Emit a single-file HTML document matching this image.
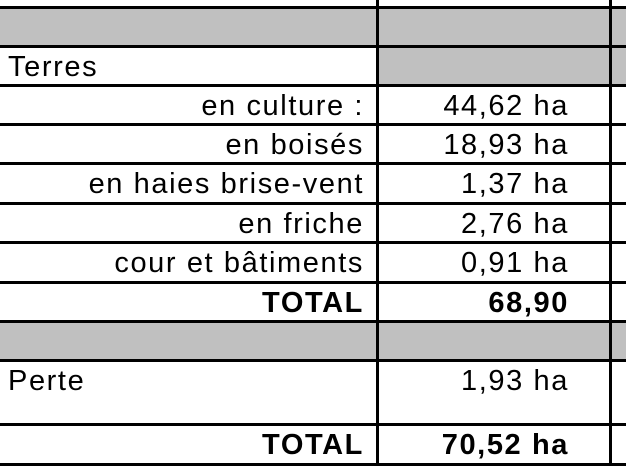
<!DOCTYPE html>
<html><head><meta charset="utf-8"><style>
body{margin:0;width:626px;height:473px;background:#fff;position:relative;overflow:hidden;font-family:"Liberation Sans",Arial,sans-serif;font-stretch:normal;color:#000}
.g{position:absolute;background:#c0c0c0}
.h{position:absolute;left:0;width:626px;height:3px;background:#000}
.v{position:absolute;width:3px;background:#000}
.t{position:absolute;font-size:29px;line-height:32px;letter-spacing:1.6px;white-space:nowrap;font-stretch:normal;font-family:"Liberation Sans",Arial,sans-serif}
.l{text-align:right;right:262px}
.r{text-align:right;right:57px}
.b{font-weight:bold}
</style></head><body>
<div class="g" style="left:0;top:8px;width:377px;height:38px"></div>
<div class="g" style="left:379px;top:8px;width:231px;height:77px"></div>
<div class="g" style="left:612px;top:8px;width:14px;height:77px"></div>
<div class="g" style="left:0;top:322px;width:626px;height:38px"></div>
<div class="h" style="top:6px"></div>
<div class="h" style="top:45px"></div>
<div class="h" style="top:84px"></div>
<div class="h" style="top:123px"></div>
<div class="h" style="top:162px"></div>
<div class="h" style="top:202px"></div>
<div class="h" style="top:241px"></div>
<div class="h" style="top:281px"></div>
<div class="h" style="top:320px"></div>
<div class="h" style="top:359px"></div>
<div class="h" style="top:423px"></div>
<div class="h" style="top:463px"></div>
<div class="v" style="left:376px;top:0;height:466px"></div>
<div class="v" style="left:609px;top:0;height:466px"></div>
<div class="t" style="left:8px;top:51px">Terres</div>
<div class="t l" style="top:90px">en culture :</div><div class="t r" style="top:90px">44,62 ha</div>
<div class="t l" style="top:129px">en boisés</div><div class="t r" style="top:129px">18,93 ha</div>
<div class="t l" style="top:168px">en haies brise-vent</div><div class="t r" style="top:168px">1,37 ha</div>
<div class="t l" style="top:208px">en friche</div><div class="t r" style="top:208px">2,76 ha</div>
<div class="t l" style="top:247px">cour et bâtiments</div><div class="t r" style="top:247px">0,91 ha</div>
<div class="t b l" style="top:287px">TOTAL</div><div class="t b r" style="top:287px">68,90</div>
<div class="t" style="left:8px;top:365px">Perte</div><div class="t r" style="top:365px">1,93 ha</div>
<div class="t b l" style="top:429px">TOTAL</div><div class="t b r" style="top:429px">70,52 ha</div>
</body></html>
